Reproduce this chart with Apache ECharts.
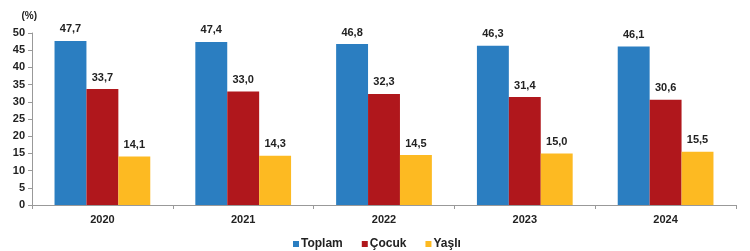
<!DOCTYPE html>
<html><head><meta charset="utf-8">
<script src="https://cdn.jsdelivr.net/npm/echarts@6/dist/echarts.min.js"></script>
<style>html,body{margin:0;padding:0;background:#fff}#c{width:750px;height:251px}</style>
</head><body><div id="c"></div>
<script>
const categories = ['2020','2021','2022','2023','2024'];
const toplam = [47.7, 47.4, 46.8, 46.3, 46.1];
const cocuk = [33.7, 33.0, 32.3, 31.4, 30.6];
const yasli = [14.1, 14.3, 14.5, 15.0, 15.5];
const seriesNames = ['Toplam','Çocuk','Yaşlı'];
const yTicks = [0,5,10,15,20,25,30,35,40,45,50];

const chart = echarts.init(document.getElementById('c'));
const font = 'Liberation Sans, Arial, sans-serif';
const lbl = {show:true, position:'top', distance:6, fontFamily:font, fontWeight:'bold', fontSize:11, color:'#222',
  formatter: p => p.value.toFixed(1).replace('.', ',')};
const mk = (name, data, color) => ({name, type:'bar', data, itemStyle:{color}, label:lbl, barGap:'0%', barCategoryGap:'32%'});
chart.setOption({
  animation:false,
  grid:{left:32, right:14, top:33, bottom:46},
  legend:{top:233, left:288, itemWidth:6, itemHeight:6, itemGap:19, icon:'rect',
    textStyle:{fontFamily:font, fontWeight:'bold', fontSize:12, color:'#222', padding:[0,0,0,-3]}},
  xAxis:{type:'category', data:categories,
    axisLine:{lineStyle:{color:'#999'}}, axisTick:{show:true, length:4, lineStyle:{color:'#999'}},
    axisLabel:{fontFamily:font, fontWeight:'bold', fontSize:11, color:'#222', margin:9}},
  yAxis:{type:'value', min:yTicks[0], max:yTicks[yTicks.length-1], interval:5,
    name:'(%)', nameGap:12, nameTextStyle:{fontFamily:font, fontWeight:'bold', fontSize:10, color:'#222', align:'right', padding:[0,-5,0,0]},
    splitLine:{show:false},
    axisLine:{show:true, lineStyle:{color:'#999'}}, axisTick:{show:true, length:4, lineStyle:{color:'#999'}},
    axisLabel:{fontFamily:font, fontWeight:'bold', fontSize:11, color:'#222', margin:7}},
  series:[mk(seriesNames[0], toplam, '#2B7EC1'), mk(seriesNames[1], cocuk, '#B0171C'), mk(seriesNames[2], yasli, '#FDBA22')]
});
</script></body></html>
